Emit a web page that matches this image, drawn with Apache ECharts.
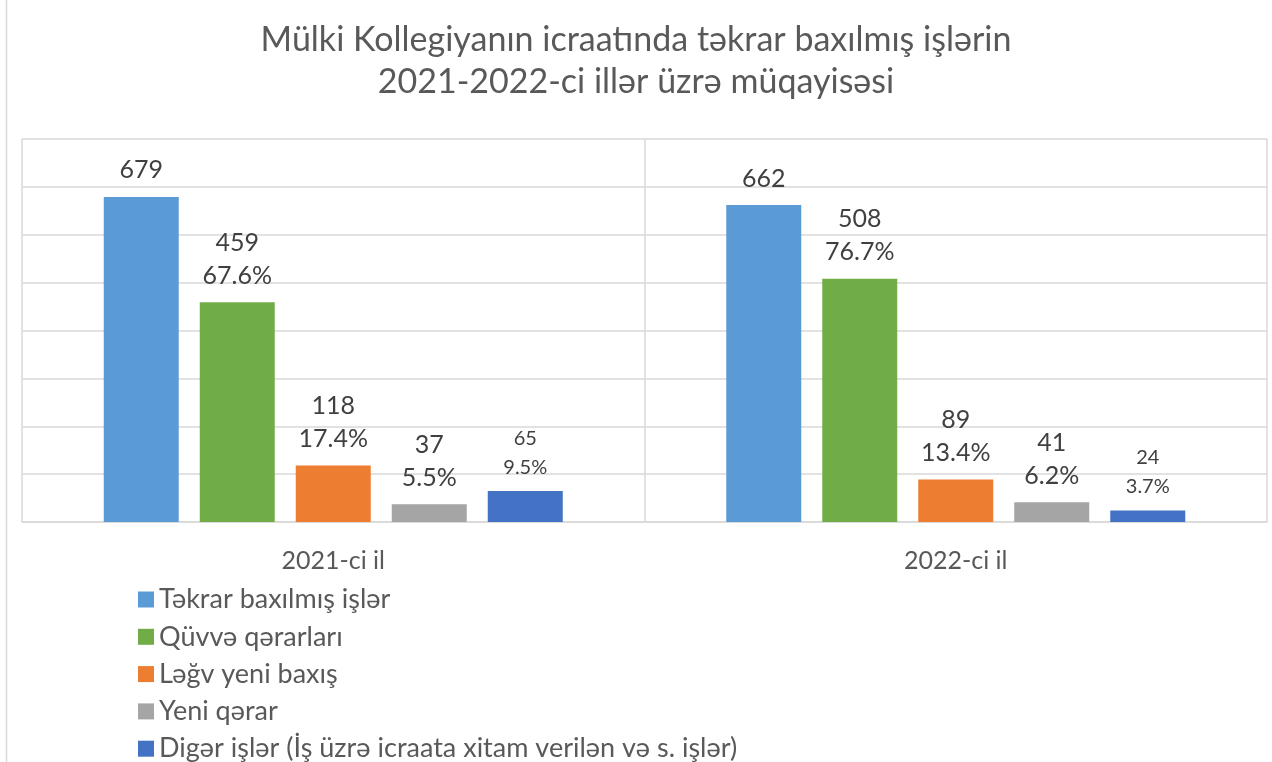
<!DOCTYPE html>
<html>
<head>
<meta charset="utf-8">
<script src="https://cdn.jsdelivr.net/npm/echarts@6/dist/echarts.min.js"></script>
<style>
  html, body { margin: 0; padding: 0; background: #fff; }
  #chart { width: 1272px; height: 762px; }
</style>
</head>
<body>
<div id="chart"></div>
<script>
const years = ['2021-ci il', '2022-ci il']
const seriesNames = [
  'Təkrar baxılmış işlər',
  'Qüvvə qərarları',
  'Ləğv yeni baxış',
  'Yeni qərar',
  'Digər işlər (İş üzrə icraata xitam verilən və s. işlər)'
]
const colors = ['#5b9bd5', '#70ad47', '#ed7d31', '#a5a5a5', '#4472c4']
const repeated = [679, 662]
const upheld = [459, 508]
const cancelled = [118, 89]
const newDecision = [37, 41]
const other = [65, 24]
const upheldPct = ['67.6%', '76.7%']
const cancelledPct = ['17.4%', '13.4%']
const newDecisionPct = ['5.5%', '6.2%']
const otherPct = ['9.5%', '3.7%']

const values = [repeated, upheld, cancelled, newDecision, other]
const pcts = [null, upheldPct, cancelledPct, newDecisionPct, otherPct]

const font = 'Lato, "Open Sans", sans-serif'
const myChart = echarts.init(document.getElementById('chart'))

const series = values.map((vals, i) => ({
  name: seriesNames[i],
  type: 'bar',
  data: vals,
  barWidth: 75,
  barGap: '28%',
  itemStyle: { color: colors[i] },
  label: {
    show: true,
    position: 'top',
    distance: i === 4 ? 9 : 10,
    color: '#404040',
    fontFamily: font,
    fontSize: i === 4 ? 20 : 25,
    lineHeight: i === 4 ? 29 : 33,
    formatter: p => pcts[i] ? p.value + '\n' + pcts[i][p.dataIndex] : String(p.value)
  }
}))

const option = {
  animation: false,
  title: {
    text: 'Mülki Kollegiyanın icraatında təkrar baxılmış işlərin\n2021-2022-ci illər üzrə müqayisəsi',
    left: 'center',
    top: 14,
    textStyle: {
      color: '#595959',
      fontFamily: font,
      fontWeight: 'normal',
      fontSize: 34,
      lineHeight: 42
    }
  },
  graphic: [{
    type: 'rect',
    shape: { x: 6.5, y: -5, width: 1300, height: 800 },
    style: { fill: 'none', stroke: '#d9d9d9', lineWidth: 1.5 },
    silent: true
  }],
  legend: {
    orient: 'vertical',
    left: 133,
    top: 581,
    height: 300,
    padding: 5,
    itemWidth: 16,
    itemHeight: 16,
    itemGap: 10.3,
    icon: 'rect',
    textStyle: { color: '#595959', fontFamily: font, fontSize: 27, lineHeight: 27 },
    data: seriesNames
  },
  grid: { left: 22, right: 5, top: 139, bottom: 240 },
  xAxis: {
    type: 'category',
    data: years,
    axisTick: { show: false },
    axisLine: { show: true, lineStyle: { color: '#d9d9d9', width: 1.5 } },
    splitLine: { show: true, lineStyle: { color: '#d9d9d9', width: 1.5 } },
    axisLabel: { color: '#595959', fontFamily: font, fontSize: 25, margin: 26 }
  },
  yAxis: {
    type: 'value',
    min: 0,
    max: 800,
    interval: 100,
    axisLabel: { show: false },
    axisLine: { show: false },
    axisTick: { show: false },
    splitLine: { lineStyle: { color: '#d9d9d9', width: 1.5 } }
  },
  series: series
}
myChart.setOption(option)
</script>
</body>
</html>
